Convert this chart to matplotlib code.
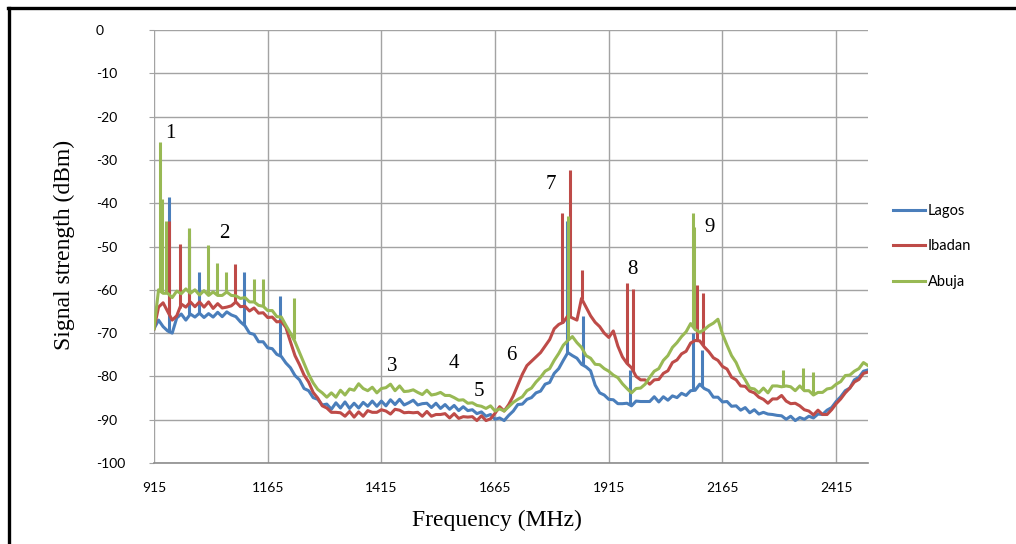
import numpy as np
import matplotlib
matplotlib.use("Agg")
import matplotlib.pyplot as plt
from matplotlib.lines import Line2D

# Frequency sweep: one reading every 10 MHz from 915 to 2485 MHz
freq_start, freq_stop, freq_step = 915, 2485, 10
freq = np.arange(freq_start, freq_stop + 1, freq_step)

lagos = [
    -69, -67, -68.5, -69.5, -70, -66.5, -65.6, -67, -65.6, -66.3,
    -65.4, -66.4, -65.5, -66.3, -65.2, -66.2, -65.1, -65.8, -66.2, -67.4,
    -68.3, -70, -70.3, -72, -72, -73.4, -73.6, -74.9, -75.4, -76.9,
    -78, -79.8, -80.8, -82.8, -83.3, -84.9, -85.3, -86.6, -86.4, -87.6,
    -86.1, -87.3, -85.9, -87.4, -86.2, -87.3, -86, -86.9, -85.7, -86.9,
    -85.7, -86.8, -85.4, -86.5, -85.3, -86.6, -86.1, -85.5, -86.6, -86.3,
    -86.2, -87.2, -86.2, -87.4, -86.5, -87.6, -86.7, -87.9, -87, -87.9,
    -87.7, -88.6, -88.2, -89.2, -88.8, -89.9, -89.6, -90.2, -89, -88,
    -86.5, -86.4, -85.3, -84.9, -83.8, -83.4, -81.8, -81.4, -79.3, -78.2,
    -76.3, -74.5, -75.2, -75.8, -77.2, -77.8, -78.7, -82, -83.8, -84.3,
    -85.3, -85.4, -86.3, -86.3, -86.2, -86.8, -85.7, -85.8, -85.8, -85.8,
    -84.7, -85.9, -84.7, -85.5, -84.5, -84.9, -83.9, -84.4, -83.3, -83.2,
    -81.8, -82.8, -83.3, -84.8, -84.8, -85.9, -85.8, -86.9, -86.8, -87.8,
    -87.2, -88.4, -87.7, -88.7, -88.3, -88.7, -88.8, -89, -89.1, -89.9,
    -89.2, -90.2, -89.5, -89.9, -89.2, -89.6, -88.7, -88.8, -87.8, -87.2,
    -85.8, -84.7, -83.3, -82.7, -80.8, -80.2, -78.8, -78.5,
]

ibadan = [
    -69, -64, -63, -65, -67, -66, -63.3, -64, -62.8, -63.9,
    -62.8, -64, -62.8, -64.3, -63.2, -64.2, -64, -63.7, -62.8, -63.9,
    -63.8, -64.9, -64.2, -65.4, -65.3, -66.4, -66.3, -67.4, -67.3, -68.7,
    -72, -75.2, -77.3, -79.7, -81.3, -83.7, -85, -86.8, -87.3, -88.3,
    -88.3, -88.4, -89.2, -88.1, -89.4, -88.2, -89.2, -87.9, -88.3, -88.3,
    -87.7, -88, -88.7, -87.6, -87.8, -88.4, -88.3, -88.4, -88.3, -89.2,
    -88.1, -89.2, -88.8, -88.8, -88.6, -89.6, -88.6, -89.7, -89.3, -89.4,
    -89.3, -90.2, -89.1, -90.2, -89.8, -88.5, -87, -88, -86.5, -84.5,
    -82, -79.5, -77.5, -76.5, -75.5, -74.5, -73, -71.5, -69, -68,
    -67.5, -66, -66.5, -67, -62, -64, -66, -67.5, -68.5, -70,
    -71, -69.5, -73, -75.5, -77, -78, -80, -80.8, -80.8, -81.8,
    -80.8, -80.7, -79.3, -78.7, -76.8, -76.2, -74.8, -74.2, -72.3, -71.7,
    -71.8, -73.2, -74.3, -75.7, -76.3, -77.7, -78.3, -80.2, -80.8, -82.2,
    -82.3, -83.4, -83.8, -84.8, -85.3, -86.2, -85.2, -85.2, -84.4, -85.7,
    -86.3, -86.2, -86.8, -87.7, -88, -88.9, -87.8, -88.8, -88.8, -87.7,
    -86.3, -85.2, -83.8, -82.7, -81.3, -80.7, -79.3, -79,
]

abuja = [
    -69, -60, -60.8, -60.8, -61.8, -60.3, -60.9, -59.8, -60.8, -60,
    -61.2, -60.2, -61.3, -60.5, -61.3, -61.3, -60.5, -61.3, -61.4, -62,
    -61.8, -62.8, -62.8, -63.6, -63.8, -64.8, -64.8, -66.2, -66.3, -68.2,
    -70, -72, -74.5, -77, -79.5, -81.5, -83, -83.8, -84.8, -83.8,
    -84.8, -83.2, -84.3, -82.9, -83.2, -81.7, -82.8, -83.3, -82.5, -83.8,
    -82.8, -82.6, -81.8, -83.3, -82.2, -83.5, -83.4, -83.1, -83.7, -84.2,
    -83.2, -84.3, -84.1, -83.7, -84.4, -84.4, -84.9, -85.5, -85.4, -86.2,
    -86.1, -86.7, -86.9, -87.4, -86.8, -88, -87.5, -88, -87, -86,
    -85.3, -84.7, -83.3, -82.7, -81.3, -80.2, -78.8, -78.2, -76.3, -74.7,
    -72.8, -71.7, -70.8, -72.2, -73.3, -75.2, -75.8, -77.2, -77.3, -78.2,
    -78.8, -79.7, -80.3, -81.7, -82.8, -83.8, -82.8, -82.7, -81.8, -80.2,
    -78.8, -78.2, -76.3, -75.2, -73.3, -72.2, -70.8, -69.7, -67.8, -69.2,
    -69.8, -69.2, -68.3, -67.7, -66.8, -70.2, -72.8, -75.2, -76.8, -79.2,
    -80.8, -82.7, -82.9, -83.8, -82.7, -83.8, -82.2, -82.2, -82.4, -82.2,
    -82.4, -83.3, -82.2, -83.3, -83.3, -84.3, -83.7, -83.7, -82.9, -82.7,
    -81.8, -81.2, -79.8, -79.7, -78.8, -78.2, -76.8, -77.5,
]

# Narrow carriers rising above each noise floor: (frequency MHz, peak dBm)
lagos_spike_f = [949, 993, 1013, 1113, 1192, 1823, 1859, 1962, 2100, 2120]
lagos_spike_db = [-38.5, -46, -55.8, -55.8, -61.5, -44, -66, -78.5, -70, -74]
ibadan_spike_f = [948, 972, 993, 1093, 1812, 1830, 1856, 1955, 1969, 2109, 2122]
ibadan_spike_db = [-44, -49.5, -48, -54, -42.3, -32.3, -55.4, -58.4, -59.8, -59, -60.8]
abuja_spike_f = [929, 933, 941, 993, 1034, 1053, 1073, 1135, 1155, 1222,
                 1826, 2100, 2103, 2298, 2343, 2365]
abuja_spike_db = [-25.8, -39, -44, -45.8, -49.7, -53.7, -55.8, -57.5, -57.5, -62,
                  -43, -42.3, -45.5, -78.5, -78, -79]

# Numbered band markers: label, frequency (MHz), level (dBm)
band_labels = ["1", "2", "3", "4", "5", "6", "7", "8", "9"]
band_label_f = [952, 1069, 1439, 1575, 1630, 1700, 1788, 1967, 2136]
band_label_db = [-23.8, -46.9, -77.8, -77.1, -83.6, -75.1, -35.6, -55.4, -45.7]

x_ticks = [915, 1165, 1415, 1665, 1915, 2165, 2415]
y_ticks = [0, -10, -20, -30, -40, -50, -60, -70, -80, -90, -100]

series = [
    ("Lagos", lagos, lagos_spike_f, lagos_spike_db, "#4a7ebb"),
    ("Ibadan", ibadan, ibadan_spike_f, ibadan_spike_db, "#be4b48"),
    ("Abuja", abuja, abuja_spike_f, abuja_spike_db, "#98b954"),
]

W, H = 1016, 544
fig = plt.figure(figsize=(W / 100, H / 100), dpi=100)
ax = fig.add_axes([154 / W, 1 - 463 / H, (868 - 154) / W, (463 - 30) / H])

handles = []
for name, level, sp_f, sp_db, color in series:
    level = np.asarray(level, dtype=float)
    (ln,) = ax.plot(freq, level, color=color, lw=2.2, solid_joinstyle="round",
                    label=name, zorder=3)
    base = np.interp(sp_f, freq, level)
    ax.vlines(sp_f, base, sp_db, color=color, lw=2.2, zorder=3)
    handles.append(ln)

ax.set_xlim(freq_start, freq_stop)
ax.set_ylim(-100, 0)
ax.set_xticks(x_ticks)
ax.set_yticks(y_ticks)
ax.set_xticklabels([str(v) for v in x_ticks], fontfamily="Lato", fontsize=10)
ax.set_yticklabels([str(v) for v in y_ticks], fontfamily="Lato", fontsize=10)
for lab in ax.get_yticklabels():
    lab.set_horizontalalignment("left")

ax.grid(True, color="#a3a3a3", lw=1.0)
ax.set_axisbelow(True)
for side in ("top", "right", "left"):
    ax.spines[side].set_visible(False)
ax.spines["bottom"].set_color("#8c8c8c")
ax.spines["bottom"].set_linewidth(1.2)
ax.tick_params(axis="y", length=3.6, color="#a3a3a3", pad=38.2)
ax.tick_params(axis="x", length=0, pad=14)

ax.set_xlabel("Frequency (MHz)", fontfamily="Liberation Serif", fontsize=17)
ax.set_ylabel("Signal strength (dBm)", fontfamily="Liberation Serif", fontsize=17)
ax.xaxis.set_label_coords(0.480, -0.132)
ax.xaxis.label.set_va("center")
ax.yaxis.set_label_coords(-0.126, 0.5035)
ax.yaxis.label.set_va("center")

for txt, f, db in zip(band_labels, band_label_f, band_label_db):
    ax.text(f, db, txt, fontfamily="Liberation Serif", fontsize=15,
            ha="center", va="center", zorder=4)

ax.legend(handles=handles, loc="upper left", frameon=False,
          bbox_to_anchor=(893 / W, 1 - 204 / H), bbox_transform=fig.transFigure,
          prop={"family": "Lato", "size": 10.5}, handlelength=2.2,
          handletextpad=0.2, labelspacing=1.47, borderpad=0, borderaxespad=0)

# Black frame along the top and left of the figure
fig.add_artist(Line2D([8 / W, 1], [1 - 7.5 / H, 1 - 7.5 / H], color="black",
                      lw=2.4, transform=fig.transFigure))
fig.add_artist(Line2D([9 / W, 9 / W], [0, 1 - 7.5 / H], color="black",
                      lw=2.4, transform=fig.transFigure))

fig.savefig("out.png", dpi=100)
